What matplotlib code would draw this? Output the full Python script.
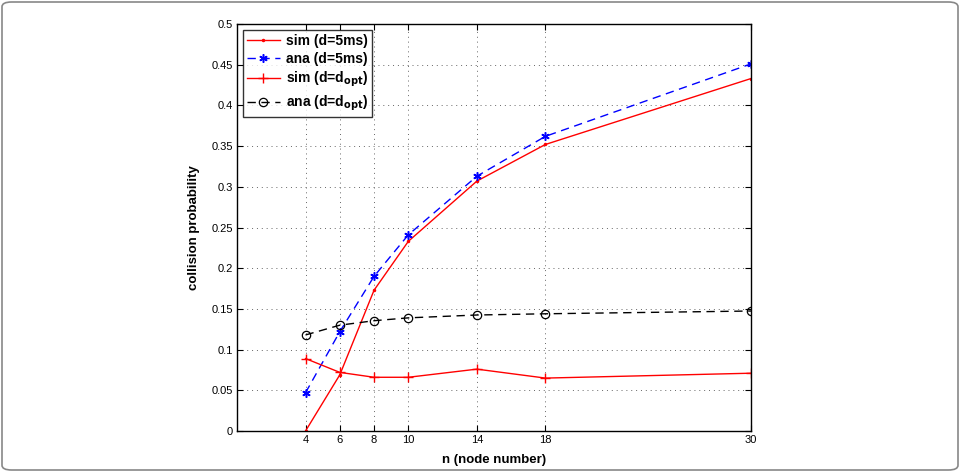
import matplotlib
matplotlib.use("Agg")
import matplotlib.pyplot as plt
from matplotlib.patches import FancyBboxPatch

plt.rcParams['font.family'] = ['Liberation Sans', 'DejaVu Sans']

n = [4, 6, 8, 10, 14, 18, 30]
sim_5ms = [0.0, 0.069, 0.173, 0.233, 0.307, 0.352, 0.433]
ana_5ms = [0.047, 0.122, 0.190, 0.241, 0.313, 0.362, 0.451]
sim_opt = [0.089, 0.072, 0.066, 0.066, 0.076, 0.065, 0.071]
ana_opt = [0.118, 0.130, 0.1355, 0.139, 0.1425, 0.144, 0.1474]
yticks = [0, 0.05, 0.1, 0.15, 0.2, 0.25, 0.3, 0.35, 0.4, 0.45, 0.5]
ytick_labels = ['0', '0.05', '0.1', '0.15', '0.2', '0.25', '0.3', '0.35', '0.4', '0.45', '0.5']

fig = plt.figure(figsize=(9.6, 4.72), dpi=100)
ax = fig.add_axes([237/960, 1-431/472, (751-237)/960, (431-24)/472])

ax.plot(n, sim_5ms, color='#ff0000', lw=1.0, marker='.', ms=3, label='sim (d=5ms)')
ax.plot(n, ana_5ms, color='#0000ff', lw=1.0, ls=(0, (6, 4)), marker=(6, 2, 0), ms=6, mew=1.1,
        label='ana (d=5ms)')
ax.plot(n, sim_opt, color='#ff0000', lw=1.0, marker='+', ms=7, mew=1.0, label=r'sim (d=d$_{\mathbf{opt}}$)')
ax.plot(n, ana_opt, color='black', lw=1.0, ls=(0, (6, 4)), marker='o', ms=6, mfc='none', mew=0.9,
        label=r'ana (d=d$_{\mathbf{opt}}$)')

ax.set_xlim(0, 30)
ax.set_ylim(0, 0.5)
ax.set_xticks(n)
ax.set_xticklabels([str(v) for v in n], fontsize=8)
ax.set_yticks(yticks)
ax.set_yticklabels(ytick_labels, fontsize=8)
ax.tick_params(direction='in', top=True, right=True, length=4, width=0.8, pad=3)
ax.grid(True, ls=(0, (1, 4)), color='#666666', lw=0.7)
for s in ax.spines.values():
    s.set_linewidth(1.0)
ax.set_xlabel('n (node number)', fontsize=9.5, fontweight='bold', labelpad=6)
ax.set_ylabel('collision probability', fontsize=9.5, fontweight='bold', labelpad=8)

leg = ax.legend(loc='upper left', prop={'weight': 'bold', 'size': 10},
                frameon=True, fancybox=False, edgecolor='black', borderaxespad=0.4,
                handlelength=2.4, labelspacing=0.3, borderpad=0.3, handletextpad=0.4)
leg.get_frame().set_linewidth(1.0)

border = FancyBboxPatch((2/960, 2/472), 956/960, 468/472, boxstyle='round,pad=0,rounding_size=0.01',
                        transform=fig.transFigure, fill=False, edgecolor='#888888', lw=1.2)
fig.patches.append(border)

fig.savefig('out.png', dpi=100)
